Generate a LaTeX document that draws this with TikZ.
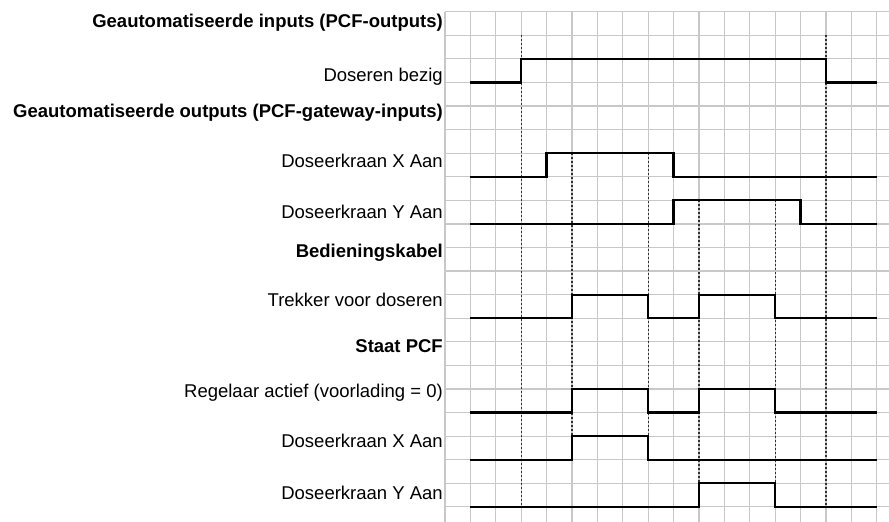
\documentclass[tikz,border=0pt]{standalone}
\usepackage{fontspec}
\setmainfont{Liberation Sans}
\definecolor{gridc}{RGB}{200,200,200}
\definecolor{dotc}{RGB}{50,50,50}
\begin{document}
\begin{tikzpicture}[x=25.4pt,y=-23.58pt,
  gridline/.style={draw=gridc,line width=1.2pt},
  sig/.style={draw=black,line width=2.3pt,line join=miter},
  guide/.style={draw=dotc,line width=1.2pt,dash pattern=on 2pt off 2pt},
  lab/.style={anchor=base east,inner sep=0pt,font=\fontsize{18.5}{22}\selectfont},
  head/.style={lab,font=\fontsize{18.5}{22}\selectfont\bfseries}]
\useasboundingbox (-17.52,-0.496) rectangle (17.48,21.64);
% grid
\foreach \i in {0,...,17} \draw[gridline] (\i,0) -- (\i,21.64);
\foreach \j in {0,...,21} \draw[gridline] (0,\j) -- (17.48,\j);
% guides
\draw[guide] (3,1) -- (3,21);
\draw[guide] (15,1) -- (15,21);
\draw[guide] (5,6) -- (5,18);
\draw[guide] (8,6) -- (8,18);
\draw[guide] (10,8) -- (10,20);
\draw[guide] (13,8) -- (13,20);
% signals
\draw[sig] (1,3) -- (3,3) -- (3,2) -- (15,2) -- (15,3) -- (17,3);
\draw[sig] (1,7) -- (4,7) -- (4,6) -- (9,6) -- (9,7) -- (17,7);
\draw[sig] (1,9) -- (9,9) -- (9,8) -- (14,8) -- (14,9) -- (17,9);
\draw[sig] (1,13) -- (5,13) -- (5,12) -- (8,12) -- (8,13) -- (10,13) -- (10,12) -- (13,12) -- (13,13) -- (17,13);
\draw[sig] (1,17) -- (5,17) -- (5,16) -- (8,16) -- (8,17) -- (10,17) -- (10,16) -- (13,16) -- (13,17) -- (17,17);
\draw[sig] (1,19) -- (5,19) -- (5,18) -- (8,18) -- (8,19) -- (17,19);
\draw[sig] (1,21) -- (10,21) -- (10,20) -- (13,20) -- (13,21) -- (17,21);
% labels
\node[head] (h1) at (-0.079,0.649) {Geautomatiseerde inputs (PCF-outputs)};
\node[lab]  (l1) at (-0.079,2.969) {Doseren bezig};
\node[head] (h2) at (-0.079,4.466) {Geautomatiseerde outputs (PCF-gateway-inputs)};
\node[lab]  (l2) at (-0.079,6.628) {Doseerkraan X Aan};
\node[lab]  (l3) at (-0.079,8.749) {Doseerkraan Y Aan};
\node[head] (h3) at (-0.079,10.403) {Bedieningskabel};
\node[lab]  (l4) at (-0.079,12.481) {Trekker voor doseren};
\node[head] (h4) at (-0.079,14.474) {Staat PCF};
\node[lab]  (l5) at (-0.079,16.382) {Regelaar actief (voorlading = 0)};
\node[lab]  (l6) at (-0.079,18.502) {Doseerkraan X Aan};
\node[lab]  (l7) at (-0.079,20.666) {Doseerkraan Y Aan};
\end{tikzpicture}
\end{document}
